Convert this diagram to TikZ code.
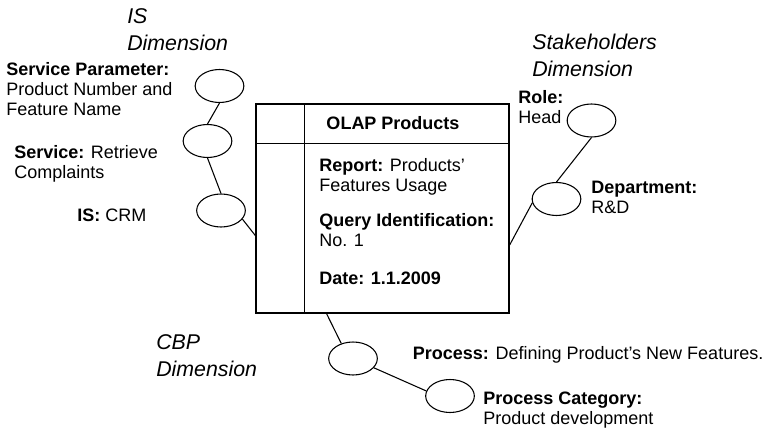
\documentclass[tikz,border=0pt]{standalone}
\usepackage{fontspec}
\setmainfont{Liberation Sans}
\usetikzlibrary{positioning, shapes.geometric}
\tikzset{liga/.style={line width=0.8pt}}

\begin{document}
\begin{tikzpicture}[
            x=0.75pt, y=-0.75pt,
            elip/.style={draw, ellipse, line width=0.8pt, minimum width=36.5pt, minimum height=24.75pt, inner sep=0pt},
            txt/.style={anchor=west, align=left, inner sep=0pt, font=\fontsize{13.5}{15}\selectfont},
            dim/.style={anchor=west, align=left, inner sep=0pt, font=\fontsize{16}{20.5}\selectfont\itshape}
        ]
            \useasboundingbox (0,0) rectangle (763,431);

            % tabla
            \node[draw, line width=1pt, minimum width=189.75pt, minimum height=156.75pt, inner sep=0pt] (olap) at (382.5,208.5) {};
            \draw[line width=1pt] ([xshift=36.75pt]olap.north west) -- ([xshift=36.75pt]olap.south west);
            \draw[line width=1pt] ([yshift=-30pt]olap.north west) -- ([yshift=-30pt]olap.north east);
            \node[txt, anchor=center] (tit) at (393,123) {\textbf{OLAP Products}};
            \node[txt] (rep) at (319,177) {\textbf{Report:} Products’\\Features Usage};
            \node[txt] (qry) at (319,230.5) {\textbf{Query Identification:}\\No. 1};
            \node[txt] (fecha) at (319,278) {\textbf{Date: 1.1.2009}};

            % IS
            \node[elip] (spar) at (219.5,86) {};
            \node[elip] (serv) at (207.5,141) {};
            \node[elip] (is) at (221,210.5) {};
            \node[dim] (isdim) at (127,29.5) {IS\\Dimension};
            \node[txt] (lspar) at (6,89) {\textbf{Service Parameter:}\\Product Number and\\Feature Name};
            \node[txt] (lserv) at (14,164) {\textbf{Service:} Retrieve\\Complaints};
            \node[txt] (lis) at (77,215) {\textbf{IS:} CRM};

            % Stakeholders
            \node[elip] (rol) at (591.5,120.5) {};
            \node[elip] (dep) at (556.5,199) {};
            \node[dim] (stdim) at (532,55.5) {Stakeholders\\Dimension};
            \node[txt] (lrol) at (518,107) {\textbf{Role:}\\Head};
            \node[txt] (ldep) at (591,197) {\textbf{Department:}\\R\&D};

            % CBP
            \node[elip] (proc) at (353,358.5) {};
            \node[elip] (cat) at (450,396) {};
            \node[dim] (cbpdim) at (156,355.5) {CBP\\Dimension};
            \node[txt, right=26pt of proc, yshift=2.5pt] (lproc) {\textbf{Process:} Defining Product’s New Features.};
            \node[txt] (lcat) at (483,410) {\textbf{Process Category:}\\Product development};

            \draw[liga] (spar.south) -- (serv.north);
            \draw[liga] (serv.south) -- (is.north);
            \draw[liga] (is.-22) -- (olap.192);
            \draw[liga] (rol.south) -- (dep.north);
            \draw[liga] (dep.189) -- (olap.-16);
            \draw[liga] (olap.242) -- (proc.128);
            \draw[liga] (proc.-24) -- (cat.168);
        \end{tikzpicture}
\end{document}
